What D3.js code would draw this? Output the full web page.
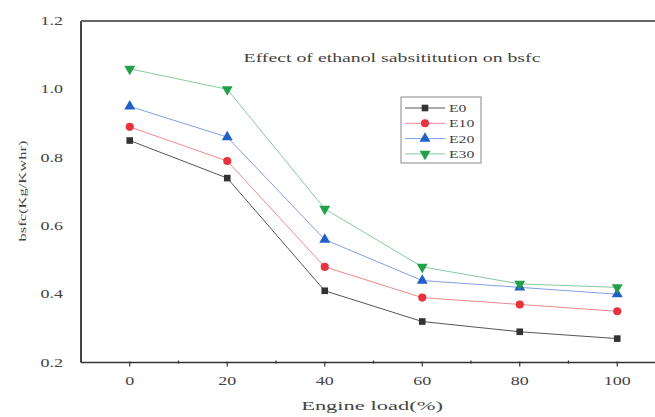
<!DOCTYPE html>
<html>
<head>
<meta charset="utf-8">
<script src="https://cdn.jsdelivr.net/npm/d3@7"></script>
<style>
  body { margin: 0; background: #fff; }
  text { font-family: "Liberation Serif", "DejaVu Serif", serif; }
</style>
</head>
<body>
<div id="chart"></div>
<script>
// engine load (%) and bsfc values per blend
const loads = [0, 20, 40, 60, 80, 100];
const e0 = [0.85, 0.74, 0.41, 0.32, 0.29, 0.27];
const e10 = [0.89, 0.79, 0.48, 0.39, 0.37, 0.35];
const e20 = [0.95, 0.86, 0.56, 0.44, 0.42, 0.40];
const e30 = [1.06, 1.00, 0.65, 0.48, 0.43, 0.42];
const seriesNames = ["E0", "E10", "E20", "E30"];
const xTicks = [0, 20, 40, 60, 80, 100];
const yTicks = [0.2, 0.4, 0.6, 0.8, 1.0, 1.2];

const series = [
    { values: e0, color: "#333333", line: "#555555", shape: d3.symbolSquare },
    { values: e10, color: "#e8333f", line: "#f08a90", shape: d3.symbolCircle },
    { values: e20, color: "#2160c4", line: "#7fa0e0", shape: d3.symbolTriangle },
    { values: e30, color: "#22a04a", line: "#86cc9c", shape: d3.symbolTriangle, flip: true }
];

const width = 655, height = 417;
const svg = d3.select("#chart")
    .append("svg")
    .attr("width", width)
    .attr("height", height);

// plot area, x domain runs past the right edge (cropped figure)
const x = d3.scaleLinear().domain([-10, 110]).range([81, 666]);
const y = d3.scaleLinear().domain([0.2, 1.2]).range([362.5, 21]);

// the source text is drawn wide, so stretch it horizontally
function wideText(parent, tx, ty, str, size, anchor, rotate, stretch) {
    stretch = stretch || 1.5;
    return parent.append("text")
        .attr("transform", `translate(${tx},${ty})${rotate ? " rotate(" + rotate + ")" : ""} scale(${stretch},1)`)
        .attr("text-anchor", anchor)
        .attr("font-size", size)
        .attr("fill", "#444")
        .text(str);
}

// frame: left, top, bottom
svg.append("line")
    .attr("x1", x(-10)).attr("x2", x(-10))
    .attr("y1", y(1.2)).attr("y2", y(0.2))
    .attr("stroke", "#444").attr("stroke-width", 2);
svg.append("line")
    .attr("x1", x(-10)).attr("x2", width)
    .attr("y1", y(1.2)).attr("y2", y(1.2))
    .attr("stroke", "#666").attr("stroke-width", 2);
svg.append("line")
    .attr("x1", x(-10)).attr("x2", width)
    .attr("y1", y(0.2)).attr("y2", y(0.2))
    .attr("stroke", "#333").attr("stroke-width", 1.6);

// x ticks
svg.selectAll(".xtick")
    .data(xTicks)
    .enter()
    .append("line")
    .attr("x1", d => x(d)).attr("x2", d => x(d))
    .attr("y1", y(0.2) - 1).attr("y2", y(0.2) + 4)
    .attr("stroke", "#333").attr("stroke-width", 1.2);
svg.selectAll(".xminor")
    .data([10, 30, 50, 70, 90])
    .enter()
    .append("line")
    .attr("x1", d => x(d)).attr("x2", d => x(d))
    .attr("y1", y(0.2) - 2).attr("y2", y(0.2) + 1)
    .attr("stroke", "#333").attr("stroke-width", 1.2);

xTicks.forEach(d => wideText(svg, x(d), 385, d, 12, "middle"));
yTicks.forEach(d => wideText(svg, 63, y(d) + 4, d.toFixed(1), 12, "end"));

// axis titles
wideText(svg, 372, 410, "Engine load(%)", 12.5, "middle", 0, 1.8);
wideText(svg, 26, 191, "bsfc(Kg/Kwhr)", 11, "middle", -90);
wideText(svg, 392, 62, "Effect of ethanol sabsititution on bsfc", 12, "middle", 0, 1.65);

// lines and markers
const line = d3.line()
    .x((d, i) => x(loads[i]))
    .y(d => y(d));

series.forEach(s => {
    svg.append("path")
        .attr("d", line(s.values))
        .attr("fill", "none")
        .attr("stroke", s.line)
        .attr("stroke-width", 1);
    svg.selectAll(null)
        .data(s.values)
        .enter()
        .append("path")
        .attr("d", d3.symbol().type(s.shape).size(s.shape === d3.symbolSquare ? 44 : 52))
        .attr("transform", (d, i) => `translate(${x(loads[i])},${y(d)})${s.flip ? " rotate(180)" : ""}`)
        .attr("fill", s.color);
});

// legend
const legend = svg.append("g").attr("transform", "translate(401,97)");
legend.append("rect")
    .attr("width", 80).attr("height", 66)
    .attr("fill", "#fff")
    .attr("stroke", "#888").attr("stroke-width", 1);
series.forEach((s, i) => {
    const ry = 11 + i * 15.3;
    legend.append("line")
        .attr("x1", 4).attr("x2", 44)
        .attr("y1", ry).attr("y2", ry)
        .attr("stroke", s.line).attr("stroke-width", 1);
    legend.append("path")
        .attr("d", d3.symbol().type(s.shape).size(s.shape === d3.symbolSquare ? 44 : 52))
        .attr("transform", `translate(24,${ry})${s.flip ? " rotate(180)" : ""}`)
        .attr("fill", s.color);
    wideText(legend, 48, ry + 4, seriesNames[i], 10.5, "start");
});
</script>
</body>
</html>
